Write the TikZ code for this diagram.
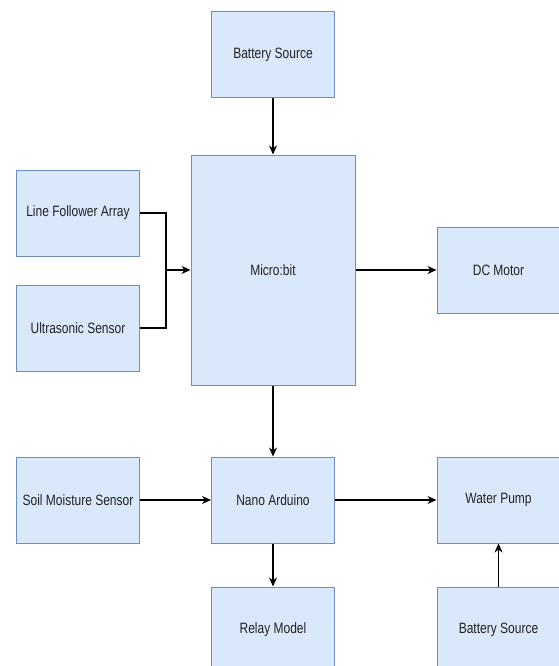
\documentclass[tikz,border=0pt]{standalone}
\usepackage{fontspec}
\setmainfont{Liberation Sans}
\usetikzlibrary{arrows.meta}
\definecolor{boxfill}{HTML}{DAE8FC}
\definecolor{boxline}{HTML}{6C8EBF}
\definecolor{txt}{HTML}{222222}
\newcommand{\lbl}[1]{\scalebox{0.8}[1]{#1}}
\tikzset{
  blk/.style={draw=boxline, fill=boxfill, line width=1pt, minimum width=123pt, minimum height=86pt, inner sep=0pt, text=txt, font=\fontsize{15}{17}\selectfont},
  conn/.style={draw=black, line width=1.3pt, -{Stealth[length=9pt,width=8pt]}},
  plain/.style={draw=black, line width=1.3pt}
}
\begin{document}
\begin{tikzpicture}[x=1pt,y=-1pt]
\useasboundingbox (0,0) rectangle (559,666);
\fill[white] (0,0) rectangle (559,666);
\begin{scope}
\clip (0,0) rectangle (559,666);
\node[blk] (bat1) at (273,54.5) {\lbl{Battery Source}};
\node[blk, minimum width=164pt, minimum height=230pt] (micro) at (273,270) {\lbl{Micro:bit}};
\node[blk] (lfa) at (78,213) {\lbl{Line Follower Array}};
\node[blk] (us) at (78,328) {\lbl{Ultrasonic Sensor}};
\node[blk] (dc) at (498.5,270) {\lbl{DC Motor}};
\node[blk] (soil) at (78,500) {\lbl{Soil Moisture Sensor}};
\node[blk] (nano) at (273,500) {\lbl{Nano Arduino}};
\node[blk] (wp) at (498.5,500) {\lbl{Water Pump}};
\node[blk] (relay) at (273,630) {\lbl{Relay Model}};
\node[blk] (bat2) at (498.5,630) {\lbl{Battery Source}};
\coordinate (j) at (166,270);
\draw[conn] (bat1) -- (micro);
\draw[plain] (lfa.east) -| (j);
\draw[plain] (us.east) -| (j);
\draw[conn] (j) -- (micro.west);
\draw[conn] (micro) -- (dc);
\draw[conn] (micro) -- (nano);
\draw[conn] (soil) -- (nano);
\draw[conn] (nano) -- (wp);
\draw[conn] (nano) -- (relay);
\draw[conn] (bat2) -- (wp);
\end{scope}
\end{tikzpicture}
\end{document}
